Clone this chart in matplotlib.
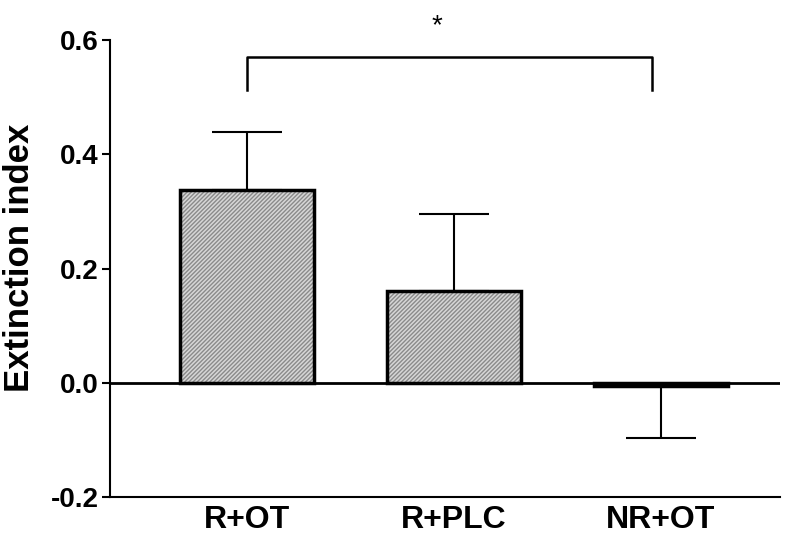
import matplotlib
matplotlib.use("Agg")
import matplotlib.pyplot as plt

categories = ["R+OT", "R+PLC", "NR+OT"]
means = [0.338, 0.161, -0.005]
errors = [0.101, 0.135, 0.091]
yticks = [-0.2, 0.0, 0.2, 0.4, 0.6]
ytick_labels = ["-0.2", "0.0", "0.2", "0.4", "0.6"]
sig_label = "*"
ylabel = "Extinction index"
bracket_x = [0, 1.957]
bracket_y = [0.513, 0.571]

plt.rcParams['font.family'] = ['Liberation Sans', 'DejaVu Sans']
plt.rcParams['hatch.linewidth'] = 1.0

fig = plt.figure(figsize=(8, 5.42), dpi=100)
ax = fig.add_axes([0.1375, 0.083, 0.8375, 0.843])

x = list(range(len(categories)))
# hatched fill (hatch takes the edge colour), then black outline on top
ax.bar(x, means, width=0.65, color='#d6d6d6', edgecolor='#8a8a8a', linewidth=0,
       hatch='////////', zorder=2)
ax.bar(x, means, width=0.65, fill=False, edgecolor='black', linewidth=2.5, zorder=2.5)

for xi, m, e in zip(x, means, errors):
    if m >= 0:
        yerr = [[0], [e]]
    else:
        yerr = [[e], [0]]
    ax.errorbar(xi, m, yerr=yerr, fmt='none', ecolor='black', elinewidth=1.5,
                capsize=25, capthick=1.5, zorder=1)

ax.axhline(0, color='black', lw=2, zorder=3)

# significance bracket
x0, x1 = bracket_x
y_end, y_br = bracket_y
ax.plot([x0, x0, x1, x1], [y_end, y_br, y_br, y_end], color='black', lw=1.8, clip_on=False)
ax.text(0.918, 0.625, sig_label, ha='center', va='center', fontsize=20)

ax.set_xlim(-0.662, 2.575)
ax.set_ylim(-0.2, 0.6)
ax.set_yticks(yticks)
ax.set_yticklabels(ytick_labels)
ax.set_xticks(x)
ax.set_xticklabels(categories)

for lab in ax.get_yticklabels():
    lab.set_fontweight('bold')
    lab.set_fontsize(20)
for lab in ax.get_xticklabels():
    lab.set_fontweight('bold')
    lab.set_fontsize(23)

ax.tick_params(axis='y', length=6, width=1.5, pad=2)
ax.tick_params(axis='x', length=0, pad=6)
ax.spines['top'].set_visible(False)
ax.spines['right'].set_visible(False)
ax.spines['left'].set_linewidth(1.5)
ax.spines['bottom'].set_linewidth(1.5)

fig.text(20 / 800, 1 - 258 / 542, ylabel, rotation=90, ha='center', va='center',
         fontsize=25, fontweight='bold')

fig.savefig("out.png", dpi=100)
